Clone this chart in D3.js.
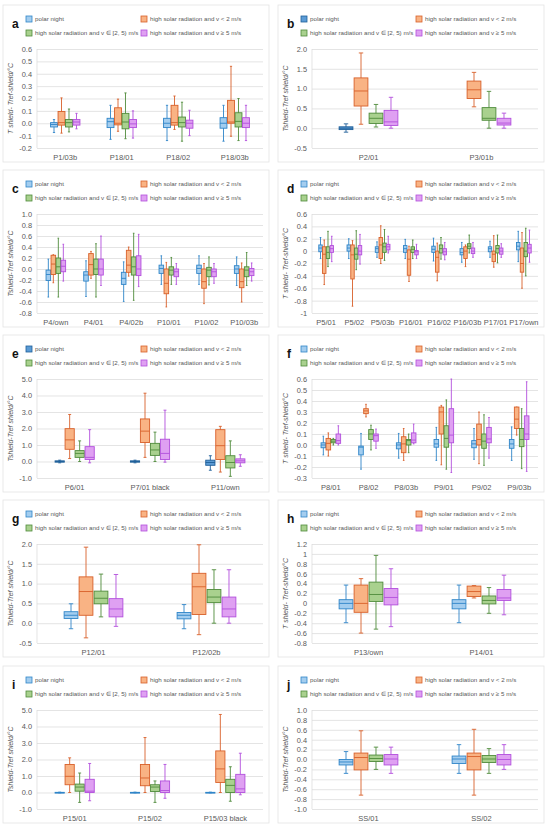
<!DOCTYPE html>
<html>
<head>
<meta charset="utf-8">
<script src="https://cdn.jsdelivr.net/npm/d3@7"></script>
<style>
  body { margin: 0; background: #fff; }
</style>
</head>
<body>
<div id="chart"></div>
<script>
// each box = [lower whisker, q1, median, q3, upper whisker], null = no data
// series order: polar night, v < 2, v in [2,5), v >= 5

// panel a
var sitesA = ["P1/03b", "P18/01", "P18/02", "P18/03b"];
var polarA = [[-0.075, -0.03, -0.01, 0.005, 0.03], [-0.13, -0.035, 0.013, 0.04, 0.145], [-0.14, -0.035, 0, 0.04, 0.145], [-0.145, -0.04, 0, 0.045, 0.145]];
var calmA = [[-0.08, -0.015, 0.005, 0.095, 0.205], [-0.065, -0.013, 0, 0.125, 0.195], [-0.05, -0.015, 0.005, 0.145, 0.22], [-0.105, 0, 0.01, 0.185, 0.46]];
var breezeA = [[-0.07, -0.03, 0.005, 0.03, 0.115], [-0.125, -0.045, 0.01, 0.08, 0.245], [-0.145, -0.03, 0.005, 0.05, 0.17], [-0.14, -0.03, 0.015, 0.085, 0.2]];
var windA = [[-0.045, -0.015, 0.01, 0.03, 0.08], [-0.12, -0.035, -0.005, 0.03, 0.1], [-0.1, -0.04, 0, 0.025, 0.105], [-0.14, -0.035, 0, 0.045, 0.145]];
var ticksA = [-0.2, -0.1, 0, 0.1, 0.2, 0.3, 0.4, 0.5, 0.6];

// panel b
var sitesB = ["P2/01", "P3/01b"];
var polarB = [[-0.1, -0.035, 0, 0.035, 0.11], null];
var calmB = [[0.1, 0.56, 0.94, 1.27, 1.9], [0.54, 0.75, 0.97, 1.19, 1.41]];
var breezeB = [[0.03, 0.12, 0.25, 0.38, 0.6], [0, 0.2, 0.25, 0.52, 0.93]];
var windB = [[0, 0.07, 0.16, 0.45, 0.78], [0, 0.08, 0.13, 0.25, 0.38]];
var ticksB = [-0.5, 0, 0.5, 1, 1.5, 2];

// panel c
var sitesC = ["P4/own", "P4/01", "P4/02b", "P10/01", "P10/02", "P10/03b"];
var polarC = [[-0.51, -0.21, -0.1, -0.02, 0.18], [-0.5, -0.22, -0.11, -0.05, 0.15], [-0.59, -0.28, -0.17, -0.06, 0.13], [-0.28, -0.08, 0.01, 0.07, 0.24], [-0.28, -0.08, 0.01, 0.07, 0.24], [-0.3, -0.08, 0, 0.06, 0.22]];
var calmC = [[-0.25, -0.1, 0.09, 0.25, 0.26], [-0.17, -0.11, 0.08, 0.28, 0.32], [-0.13, -0.06, 0.07, 0.34, 0.4], [-0.69, -0.45, -0.26, 0, 0.12], [-0.63, -0.35, -0.23, 0, 0.1], [-0.6, -0.34, -0.23, 0, 0.11]];
var breezeC = [[-0.51, -0.08, 0.04, 0.2, 0.56], [-0.51, -0.1, 0, 0.18, 0.46], [-0.57, -0.11, 0.04, 0.22, 0.65], [-0.28, -0.11, -0.02, 0.04, 0.21], [-0.29, -0.14, -0.02, 0.03, 0.22], [-0.3, -0.14, -0.02, 0.04, 0.3]];
var windC = [[-0.22, -0.05, 0.05, 0.16, 0.45], [-0.3, -0.11, 0, 0.18, 0.6], [-0.32, -0.12, 0, 0.24, 0.63], [-0.28, -0.14, -0.05, 0, 0.1], [-0.26, -0.14, -0.05, 0, 0.1], [-0.22, -0.12, -0.05, 0.01, 0.11]];
var ticksC = [-0.8, -0.6, -0.4, -0.2, 0, 0.2, 0.4, 0.6, 0.8, 1.0];

// panel d
var sitesD = ["P5/01", "P5/02", "P5/03b", "P16/01", "P16/02", "P16/03b", "P17/01", "P17/own"];
var polarD = [[-0.12, -0.01, 0.05, 0.1, 0.22], [-0.12, 0, 0.05, 0.1, 0.2], [-0.1, -0.02, 0.04, 0.07, 0.15], [-0.12, -0.02, 0.04, 0.09, 0.19], [-0.16, -0.02, 0.03, 0.08, 0.21], [-0.18, -0.06, -0.02, 0.04, 0.14], [-0.1, -0.01, 0.04, 0.07, 0.16], [-0.17, 0.02, 0.08, 0.14, 0.32]];
var calmD = [[-0.54, -0.36, -0.05, 0.07, 0.18], [-0.89, -0.45, -0.06, 0.1, 0.17], [-0.2, -0.12, 0.1, 0.22, 0.41], [-0.49, -0.39, -0.13, 0.02, 0.08], [-0.48, -0.34, -0.1, 0, 0.13], [-0.25, -0.12, 0, 0.07, 0.1], [-0.26, -0.17, -0.05, 0, 0.25], [-0.6, -0.34, -0.2, 0.05, 0.3]];
var breezeD = [[-0.25, -0.12, -0.02, 0.07, 0.32], [-0.3, -0.13, -0.05, 0.05, 0.33], [-0.15, -0.02, 0.07, 0.13, 0.35], [-0.12, -0.02, 0.03, 0.07, 0.18], [-0.13, -0.03, 0.04, 0.1, 0.22], [-0.03, 0.04, 0.08, 0.12, 0.26], [-0.19, -0.03, 0.04, 0.09, 0.26], [-0.4, -0.09, 0, 0.14, 0.37]];
var windD = [[-0.17, -0.02, 0.04, 0.09, 0.24], [-0.21, -0.06, 0, 0.09, 0.27], [-0.03, 0.02, 0.07, 0.11, 0.24], [-0.12, -0.06, -0.01, 0.01, 0.11], [-0.14, -0.06, -0.01, 0.04, 0.14], [-0.1, -0.04, 0, 0.05, 0.14], [-0.1, -0.05, 0, 0.05, 0.12], [-0.18, -0.03, 0.05, 0.11, 0.34]];
var ticksD = [-1, -0.8, -0.6, -0.4, -0.2, 0, 0.2, 0.4, 0.6];

// panel e
var sitesE = ["P6/01", "P7/01 black", "P11/own"];
var polarE = [[-0.08, -0.04, 0, 0.04, 0.08], [-0.08, -0.04, 0, 0.04, 0.08], [-0.53, -0.23, -0.06, 0.08, 0.35]];
var calmE = [[0.18, 0.74, 1.31, 1.99, 2.85], [0.25, 1.15, 1.84, 2.58, 4.14], [-0.64, 0.12, 0.96, 1.93, 2.13]];
var breezeE = [[0, 0.25, 0.49, 0.66, 1.25], [0, 0.37, 0.7, 1.1, 1.78], [-0.9, -0.39, -0.06, 0.35, 1.25]];
var windE = [[-0.08, 0.12, 0.25, 0.9, 1.93], [-0.04, 0.12, 0.49, 1.35, 3.11], [-0.29, -0.08, 0.04, 0.16, 0.41]];
var ticksE = [-1, 0, 1, 2, 3, 4, 5];

// panel f
var sitesF = ["P8/01", "P8/02", "P8/03b", "P9/01", "P9/02", "P9/03b"];
var polarF = [[-0.09, -0.025, 0, 0.02, 0.08], [-0.22, -0.09, -0.02, -0.01, 0.105], [-0.12, -0.035, 0, 0.02, 0.105], [-0.14, -0.02, 0.01, 0.05, 0.16], [-0.13, -0.025, 0.01, 0.04, 0.15], [-0.14, -0.03, 0.01, 0.05, 0.165]];
var calmF = [[-0.1, -0.045, 0.015, 0.06, 0.11], [0.255, 0.285, 0.31, 0.33, 0.37], [-0.14, -0.07, 0.01, 0.075, 0.15], [-0.18, 0.1, 0.3, 0.345, 0.36], [-0.17, 0, 0.05, 0.19, 0.3], [0.09, 0.15, 0.235, 0.345, 0.345]];
var breezeF = [[0, 0.02, 0.035, 0.05, 0.06], [-0.045, 0.05, 0.1, 0.14, 0.18], [-0.07, 0, 0.04, 0.05, 0.1], [-0.22, -0.02, 0.06, 0.175, 0.41], [-0.185, -0.03, 0.035, 0.1, 0.275], [-0.215, -0.015, 0.05, 0.15, 0.33]];
var windF = [[0, 0.015, 0.04, 0.1, 0.175], [-0.03, 0.035, 0.085, 0.1, 0.145], [0.01, 0.02, 0.045, 0.11, 0.19], [-0.25, 0.02, 0.09, 0.33, 0.6], [-0.12, 0.02, 0.055, 0.16, 0.25], [-0.24, 0.05, 0.1, 0.265, 0.575]];
var ticksF = [-0.3, -0.2, -0.1, 0, 0.1, 0.2, 0.3, 0.4, 0.5, 0.6];

// panel g
var sitesG = ["P12/01", "P12/02b"];
var polarG = [[-0.14, 0.12, 0.2, 0.29, 0.49], [-0.14, 0.11, 0.2, 0.27, 0.47]];
var calmG = [[-0.37, 0.2, 0.8, 1.17, 1.92], [-0.29, 0.22, 0.92, 1.26, 1.98]];
var breezeG = [[0.16, 0.49, 0.63, 0.81, 1.24], [0, 0.52, 0.66, 0.85, 1.35]];
var windG = [[-0.08, 0.16, 0.36, 0.62, 1.23], [0, 0.16, 0.36, 0.66, 1.35]];
var ticksG = [-0.5, 0, 0.5, 1, 1.5, 2];

// panel h
var sitesH = ["P13/own", "P14/01"];
var polarH = [[-0.39, -0.11, 0, 0.075, 0.37], [-0.39, -0.11, 0, 0.075, 0.37]];
var calmH = [[-0.6, -0.18, 0, 0.37, 0.5], [0.11, 0.14, 0.24, 0.35, 0.36]];
var breezeH = [[-0.52, 0.04, 0.18, 0.43, 0.97], [-0.2, -0.01, 0.06, 0.15, 0.32]];
var windH = [[-0.47, -0.03, 0.12, 0.3, 0.7], [-0.23, 0.06, 0.11, 0.28, 0.57]];
var ticksH = [-0.8, -0.6, -0.4, -0.2, 0, 0.2, 0.4, 0.6, 0.8, 1, 1.2];

// panel i
var sitesI = ["P15/01", "P15/02", "P15/03 black"];
var polarI = [[-0.02, -0.01, 0, 0.01, 0.02], [-0.02, -0.01, 0, 0.01, 0.02], [-0.02, -0.01, 0, 0.01, 0.02]];
var calmI = [[0, 0.47, 0.98, 1.7, 2.1], [0, 0.41, 0.88, 1.7, 3.33], [0, 0.61, 1.43, 2.52, 4.73]];
var breezeI = [[-0.6, 0.08, 0.33, 0.51, 1.18], [-0.6, 0.06, 0.33, 0.47, 0.7], [-0.53, 0, 0.43, 0.8, 1.56]];
var windI = [[-0.5, 0, 0.08, 0.8, 1.76], [-0.35, 0, 0.12, 0.7, 1.7], [-0.14, 0, 0.22, 1.1, 2.38]];
var ticksI = [-1, 0, 1, 2, 3, 4, 5];

// panel j
var sitesJ = ["SS/01", "SS/02"];
var polarJ = [[-0.28, -0.11, -0.05, 0, 0.16], [-0.28, -0.08, 0.01, 0.07, 0.3]];
var calmJ = [[-0.72, -0.21, 0.04, 0.13, 0.58], [-0.72, -0.21, 0.06, 0.13, 0.61]];
var breezeJ = [[-0.2, -0.04, 0.02, 0.09, 0.25], [-0.28, -0.06, 0.01, 0.08, 0.22]];
var windJ = [[-0.28, -0.11, 0.01, 0.1, 0.25], [-0.2, -0.11, 0, 0.1, 0.3]];
var ticksJ = [-1, -0.8, -0.6, -0.4, -0.2, 0, 0.2, 0.4, 0.6, 0.8, 1];

var legendNames = ["polar night", "high solar radiation and v < 2 m/s",
  "high solar radiation and v \u2208 [2, 5) m/s", "high solar radiation and v \u2265 5 m/s"];

// colours (fill, stroke); some panels use a darker blue for polar night
var fills = ["#a3cdef", "#f9b384", "#a9d18e", "#dfa0f2"];
var strokes = ["#2f85c8", "#d8602a", "#4f8b3b", "#b24fdc"];
var darkBlue = { fill: "#5b9bd5", stroke: "#1f5f99" };

var title1 = "T shield- Tref-shield/\u00b0C";
var title2 = "Tshield-Tref shield/\u00b0C";

var fix1 = function(d) { return d.toFixed(1); };
var gen = function(d) { return String(+d.toFixed(1)); };

var panels = [
  { letter: "a", col: 0, row: 0, sites: sitesA, series: [polarA, calmA, breezeA, windA], ticks: ticksA, fmt: fix1, title: title1 },
  { letter: "b", col: 1, row: 0, sites: sitesB, series: [polarB, calmB, breezeB, windB], ticks: ticksB, fmt: fix1, title: title2, dark: true },
  { letter: "c", col: 0, row: 1, sites: sitesC, series: [polarC, calmC, breezeC, windC], ticks: ticksC, fmt: fix1, title: title2 },
  { letter: "d", col: 1, row: 1, sites: sitesD, series: [polarD, calmD, breezeD, windD], ticks: ticksD, fmt: gen, title: title1 },
  { letter: "e", col: 0, row: 2, sites: sitesE, series: [polarE, calmE, breezeE, windE], ticks: ticksE, fmt: fix1, title: title2, dark: true },
  { letter: "f", col: 1, row: 2, sites: sitesF, series: [polarF, calmF, breezeF, windF], ticks: ticksF, fmt: fix1, title: title1 },
  { letter: "g", col: 0, row: 3, sites: sitesG, series: [polarG, calmG, breezeG, windG], ticks: ticksG, fmt: fix1, title: title2 },
  { letter: "h", col: 1, row: 3, sites: sitesH, series: [polarH, calmH, breezeH, windH], ticks: ticksH, fmt: gen, title: title1 },
  { letter: "i", col: 0, row: 4, sites: sitesI, series: [polarI, calmI, breezeI, windI], ticks: ticksI, fmt: fix1, title: title2 },
  { letter: "j", col: 1, row: 4, sites: sitesJ, series: [polarJ, calmJ, breezeJ, windJ], ticks: ticksJ, fmt: fix1, title: title2 }
];

// page
var width = 550, height = 832;
var colX = [0, 275];
var rowY = [0, 165, 330, 495, 661];

// plot area inside a panel
var plot = { left: 37, right: 263, top: 49, bottom: 148 };

var svg = d3.select("#chart").append("svg")
    .attr("width", width)
    .attr("height", height)
    .style("font-family", "'Liberation Sans', Arial, sans-serif");

panels.forEach(function(p) {
  var g = svg.append("g")
      .attr("transform", `translate(${colX[p.col]}, ${rowY[p.row]})`);

  var pf = fills.slice(), ps = strokes.slice();
  if (p.dark) { pf[0] = darkBlue.fill; ps[0] = darkBlue.stroke; }

  // card
  g.append("rect")
      .attr("x", 3).attr("y", 5)
      .attr("width", 266).attr("height", 157)
      .attr("fill", "#fff")
      .attr("stroke", "#e3e3e3")
      .attr("stroke-width", 0.8);

  // panel letter
  g.append("text")
      .attr("x", 12).attr("y", 28)
      .attr("font-size", 12)
      .attr("font-weight", "bold")
      .attr("fill", "#111")
      .text(p.letter);

  // legend
  var legendPos = [[26, 19], [141, 19], [26, 33], [141, 33]];
  legendNames.forEach(function(name, k) {
    var lg = g.append("g").attr("transform", `translate(${legendPos[k][0]}, ${legendPos[k][1]})`);
    lg.append("rect")
        .attr("x", 0).attr("y", -3)
        .attr("width", 6).attr("height", 6)
        .attr("fill", pf[k])
        .attr("stroke", ps[k])
        .attr("stroke-width", 0.8);
    lg.append("text")
        .attr("x", 9).attr("y", 2.2)
        .attr("font-size", 6.2)
        .attr("fill", "#595959")
        .text(name);
  });

  // scales
  var yScale = d3.scaleLinear()
      .domain([p.ticks[0], p.ticks[p.ticks.length - 1]])
      .range([plot.bottom, plot.top]);

  var xScale = d3.scaleBand()
      .domain(p.sites)
      .range([plot.left, plot.right]);

  var groupW = xScale.bandwidth() * 0.52;
  var inner = d3.scaleBand()
      .domain([0, 1, 2, 3])
      .range([-groupW / 2, groupW / 2])
      .paddingInner(0.08);

  // y grid + labels
  var yAxis = d3.axisLeft(yScale)
      .tickValues(p.ticks)
      .tickFormat(p.fmt)
      .tickSize(-(plot.right - plot.left))
      .tickPadding(5);

  var yg = g.append("g")
      .attr("transform", `translate(${plot.left}, 0)`)
      .call(yAxis);
  yg.select(".domain").remove();
  yg.selectAll(".tick line").attr("stroke", "#d9d9d9").attr("stroke-width", 0.7);
  yg.selectAll(".tick text")
      .attr("font-size", 7.4)
      .attr("fill", "#595959")
      .attr("font-family", "'Liberation Sans', Arial, sans-serif");

  // left axis line
  g.append("line")
      .attr("x1", plot.left).attr("x2", plot.left)
      .attr("y1", plot.top).attr("y2", plot.bottom)
      .attr("stroke", "#d9d9d9")
      .attr("stroke-width", 0.7);

  // x labels
  var xg = g.append("g")
      .attr("transform", `translate(0, ${plot.bottom})`)
      .call(d3.axisBottom(xScale).tickSize(0).tickPadding(7));
  xg.select(".domain").remove();
  xg.selectAll(".tick text")
      .attr("font-size", 7.5)
      .attr("fill", "#595959")
      .attr("font-family", "'Liberation Sans', Arial, sans-serif");

  // y title
  g.append("text")
      .attr("transform", `translate(13, ${(plot.top + plot.bottom) / 2}) rotate(-90)`)
      .attr("text-anchor", "middle")
      .attr("font-size", 7)
      .attr("font-style", "italic")
      .attr("fill", "#595959")
      .text(p.title);

  // boxes
  p.series.forEach(function(values, s) {
    p.sites.forEach(function(site, i) {
      var d = values[i];
      if (!d) return;
      var bw = inner.bandwidth();
      var x0 = xScale(site) + xScale.bandwidth() / 2 + inner(s);
      var cx = x0 + bw / 2;
      var cap = Math.max(bw * 0.32, 1.6);
      var bg = g.append("g")
          .attr("stroke", ps[s])
          .attr("stroke-width", 0.9);

      // whisker
      bg.append("line")
          .attr("x1", cx).attr("x2", cx)
          .attr("y1", yScale(d[0])).attr("y2", yScale(d[4]));
      bg.append("line")
          .attr("x1", cx - cap / 2).attr("x2", cx + cap / 2)
          .attr("y1", yScale(d[0])).attr("y2", yScale(d[0]));
      bg.append("line")
          .attr("x1", cx - cap / 2).attr("x2", cx + cap / 2)
          .attr("y1", yScale(d[4])).attr("y2", yScale(d[4]));

      // box
      bg.append("rect")
          .attr("x", x0)
          .attr("y", yScale(d[3]))
          .attr("width", bw)
          .attr("height", Math.max(yScale(d[1]) - yScale(d[3]), 0.8))
          .attr("fill", pf[s]);

      // median
      bg.append("line")
          .attr("x1", x0).attr("x2", x0 + bw)
          .attr("y1", yScale(d[2])).attr("y2", yScale(d[2]));
    });
  });
});
</script>
</body>
</html>
